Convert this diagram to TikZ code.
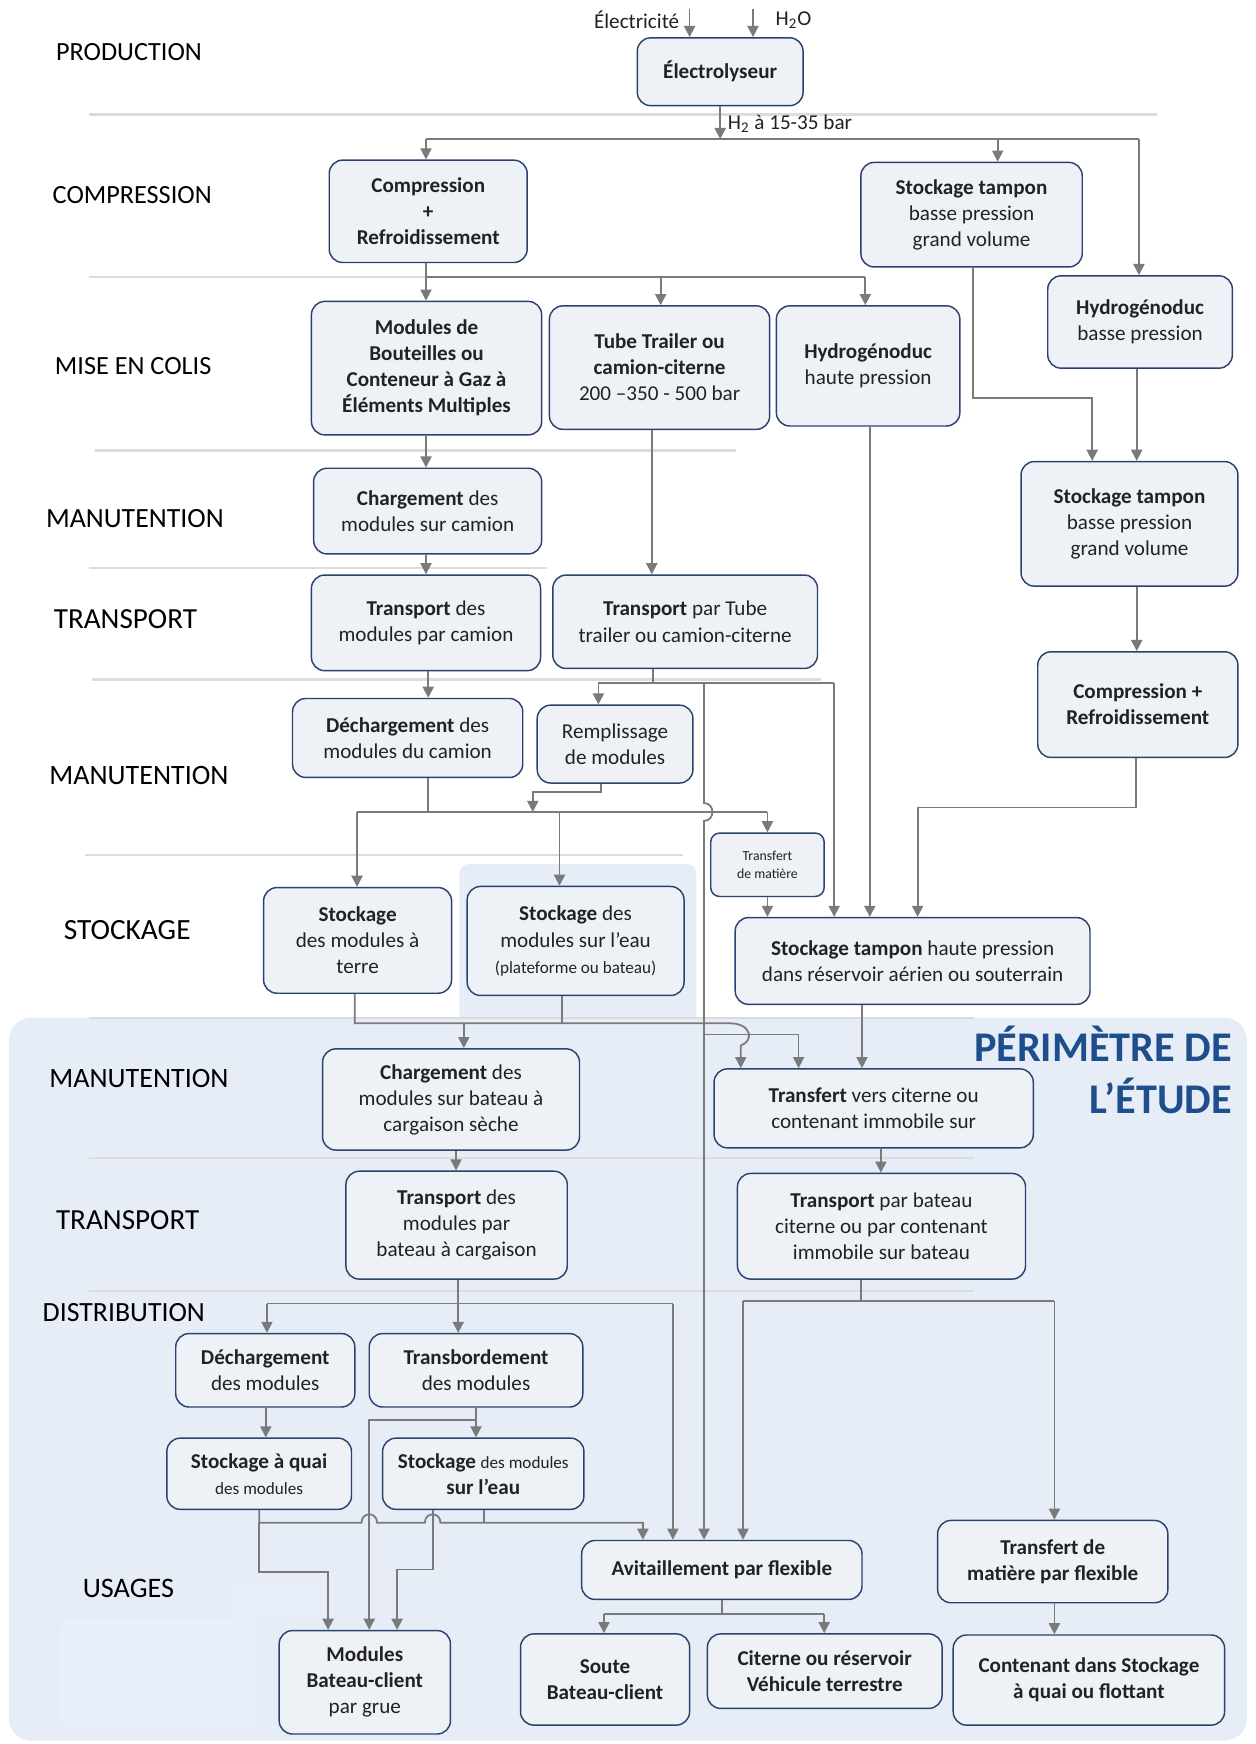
\documentclass[tikz,border=0pt]{standalone}
\usepackage{fontspec}
\setmainfont{Carlito}
\usetikzlibrary{arrows.meta,calc}

\definecolor{boxfill}{HTML}{EEF2F7}
\definecolor{boxline}{HTML}{2B4170}
\definecolor{wirec}{HTML}{7A7A7A}
\definecolor{sepc}{HTML}{DCDCDC}
\definecolor{zone}{HTML}{E6EDF7}
\definecolor{zonelight}{HTML}{E8EFF9}
\definecolor{titleblue}{HTML}{1F4E8C}
\definecolor{txt}{HTML}{222222}

\newcommand\nodefnt{\fontsize{9.5}{11.7}\selectfont}
\newcommand\smallfnt{\fontsize{7.7}{9}\selectfont}
\newcommand\tinyfnt{\fontsize{6.2}{8}\selectfont}
\newcommand\stagesize[1]{\fontsize{#1}{14}\selectfont}

\tikzset{
  box/.style={draw=boxline, fill=boxfill, rounded corners=6pt, line width=0.65pt,
    inner sep=0pt, align=center, font=\nodefnt, text=txt},
  boxb/.style={box, font=\nodefnt\bfseries},
  % place a box by its left, top, right and bottom edges
  span/.style args={#1/#2/#3/#4}{minimum width={(#3-#1)*0.5pt}, minimum height={(#4-#2)*0.5pt},
    at={({(#1+#3)/2},{(#2+#4)/2})}},
  wire/.style={draw=wirec, line width=0.8pt},
  arr/.style={wire, -{Triangle[length=5pt,width=5pt]}, fill=none},
  sepline/.style={draw=sepc, line width=1pt},
  stage/.style={anchor=west, font=\stagesize{#1}, inner sep=0pt, text=black},
  stage/.default=11.8,
  lbl/.style={font=\nodefnt, inner sep=0pt, text=txt},
}

\begin{document}
\begin{tikzpicture}[x=0.5pt,y=-0.5pt]
\useasboundingbox (0,0) rectangle (1129,1568);
\fill[white] (0,0) rectangle (1129,1568);

% study perimeter and highlighted zones
\fill[zone, rounded corners=10pt] (8,915) rectangle (1121,1565);
\fill[zone, rounded corners=4pt] (413,777) rectangle (626,925);
\fill[zonelight, rounded corners=4pt] (54,1456) rectangle (229,1555);
\fill[zonelight] (209,1427) rectangle (288,1456);

% stage separators
\draw[sepline] (80,103) -- (1040,103);
\draw[sepline] (80,249) -- (778,249);
\draw[sepline] (85,405) -- (662,405);
\draw[sepline] (80,511) -- (492,511);
\draw[sepline] (83,611) -- (738,611);
\draw[sepline] (76,769) -- (614,769);
\draw[sepline] (80,915) -- (876,915);
\draw[sepline] (80,1041) -- (876,1041);
\draw[sepline] (80,1161) -- (876,1161);

% stage names
\node[stage] (sProd) at (50,47) {PRODUCTION};
\node[stage] (sComp) at (47,175) {COMPRESSION};
\node[stage] (sColis) at (49,329) {MISE EN COLIS};
\node[stage=12.5] (sMan1) at (41,466) {MANUTENTION};
\node[stage=13.1] (sTr1) at (48,557) {TRANSPORT};
\node[stage=12.6] (sMan2) at (44,697) {MANUTENTION};
\node[stage=13.2] (sSto) at (57,836) {STOCKAGE};
\node[stage=12.6] (sMan3) at (44,970) {MANUTENTION};
\node[stage=13.1] (sTr2) at (50,1097) {TRANSPORT};
\node[stage=12.5] (sDist) at (38,1180) {DISTRIBUTION};
\node[stage=12.7] (sUse) at (74,1428) {USAGES};

\node[anchor=base east, font=\fontsize{19}{23}\selectfont\bfseries, text=titleblue, inner sep=0pt]
  (per1) at (1108,954) {PÉRIMÈTRE DE};
\node[anchor=base east, font=\fontsize{19}{23}\selectfont\bfseries, text=titleblue, inner sep=0pt]
  (per2) at (1108,1001) {L’ÉTUDE};

% process steps
\node[boxb, span=573/34/722/95] (ely) {Électrolyseur};
\node[boxb, span=296/144/474/236] (comp) {Compression\\+\\Refroidissement};
\node[box, span=774/146/973/240] (stA) {\textbf{Stockage tampon}\\basse pression\\grand volume};
\node[box, span=942/248/1108/331] (hbp) {\textbf{Hydrogénoduc}\\basse pression};
\node[boxb, span=280/271/487/391] (mod) {Modules de\\Bouteilles ou\\Conteneur à Gaz à\\Éléments Multiples};
\node[box, span=494/275/692/386] (tube) {\textbf{Tube Trailer ou}\\\textbf{camion-citerne}\\200 –350 - 500 bar};
\node[box, span=698/275/863/383] (hhp) {\textbf{Hydrogénoduc}\\haute pression};
\node[box, span=918/415/1113/527] (stB) {\textbf{Stockage tampon}\\basse pression\\grand volume};
\node[box, span=282/421/487/498] (chm) {\textbf{Chargement} des\\modules sur camion};
\node[box, span=280/517/486/603] (trc) {\textbf{Transport} des\\modules par camion};
\node[box, span=497/517/735/601] (trt) {\textbf{Transport} par Tube\\trailer ou camion-citerne};
\node[boxb, span=933/586/1113/681] (comp2) {Compression +\\Refroidissement};
\node[box, span=263/628/470/699] (dech) {\textbf{Déchargement} des\\modules du camion};
\node[box, span=483/634/623/704] (rem) {Remplissage\\de modules};
\node[box, rounded corners=4pt, font=\tinyfnt, span=639/749/741/806] (tm) {Transfert\\de matière};
\node[box, span=237/798/406/893] (sta) {\textbf{Stockage}\\des modules à\\terre};
\node[box, span=420/797/615/895] (ste) {\textbf{Stockage} des\\modules sur l’eau\\{\smallfnt (plateforme ou bateau)}};
\node[box, span=661/825/980/903] (sthp) {\textbf{Stockage tampon} haute pression\\dans réservoir aérien ou souterrain};
\node[box, span=290/943/521/1034] (chb) {\textbf{Chargement} des\\modules sur bateau à\\cargaison sèche};
\node[box, span=642/961/929/1032] (tv) {\textbf{Transfert} vers citerne ou\\contenant immobile sur};
\node[box, span=311/1053/510/1150] (tbc) {\textbf{Transport} des\\modules par\\bateau à cargaison};
\node[box, span=663/1055/922/1150] (tbt) {\textbf{Transport} par bateau\\citerne ou par contenant\\immobile sur bateau};
\node[box, span=158/1199/319/1265] (dm) {\textbf{Déchargement}\\des modules};
\node[box, span=332/1199/524/1265] (tb) {\textbf{Transbordement}\\des modules};
\node[box, span=150/1293/316/1357] (sq) {\textbf{Stockage à quai}\\{\smallfnt des modules}};
\node[box, span=344/1293/525/1357] (se) {\textbf{Stockage} {\smallfnt des modules}\\\textbf{sur l’eau}};
\node[boxb, span=523/1385/775/1438] (avi) {Avitaillement par flexible};
\node[boxb, span=843/1367/1050/1441] (tf) {Transfert de\\matière par flexible};
\node[box, span=251/1466/405/1559] (mbc) {\textbf{Modules}\\\textbf{Bateau-client}\\par grue};
\node[boxb, span=468/1469/620/1551] (sou) {Soute\\Bateau-client};
\node[boxb, span=636/1469/847/1536] (cit) {Citerne ou réservoir\\Véhicule terrestre};
\node[boxb, span=857/1470/1101/1551] (cont) {Contenant dans Stockage\\à quai ou flottant};

% inputs and output of the electrolyser
\coordinate (eIn) at (620,8);
\coordinate (wIn) at (677,8);
\draw[arr] (eIn) -- (eIn |- ely.north);
\draw[arr] (wIn) -- (wIn |- ely.north);
\node[lbl, anchor=east] (lblE) at (611,18) {Électricité};
\node[lbl, anchor=west] (lblW) at (697,18) {H\textsubscript{2}O};
\coordinate (b1) at (648,125);
\coordinate (b1L) at (383,125);
\coordinate (b1M) at (897,125);
\coordinate (b1R) at (1024,125);
\draw[arr] (ely.south) -- (ely.south |- b1);
\node[lbl, anchor=west] (lblH) at (654,111) {H\textsubscript{2} à 15-35 bar};
\draw[wire] (b1L) -- (b1R);
\draw[arr] (b1L) -- (b1L |- comp.north);
\draw[arr] (b1M) -- (b1M |- stA.north);
\draw[arr] (b1R) -- (b1R |- hbp.north);

% compression outputs
\coordinate (b2L) at (383,249);
\coordinate (b2M) at (594,249);
\coordinate (b2R) at (778,249);
\draw[wire] (b2L |- comp.south) -- (b2L) -- (b2R);
\draw[arr] (b2L) -- (b2L |- mod.north);
\draw[arr] (b2M) -- (b2M |- tube.north);
\draw[arr] (b2R) -- (b2R |- hhp.north);

% low pressure branch
\coordinate (kA) at (875,358);
\coordinate (kB) at (982,358);
\draw[arr] (kA |- stA.south) -- (kA) -- (kB) -- (kB |- stB.north);
\coordinate (kC) at (1022,0);
\draw[arr] (kC |- hbp.south) -- (kC |- stB.north);
\draw[arr] (kC |- stB.south) -- (kC |- comp2.north);
\coordinate (kJ) at (1021,726);
\coordinate (kK) at (825,726);
\draw[arr] (kJ |- comp2.south) -- (kJ) -- (kK) -- (kK |- sthp.north);

% module chain
\coordinate (kD) at (383,0);
\draw[arr] (kD |- mod.south) -- (kD |- chm.north);
\draw[arr] (kD |- chm.south) -- (kD |- trc.north);
\coordinate (kG) at (385,0);
\draw[arr] (kG |- trc.south) -- (kG |- dech.north);

% tube trailer and pipeline
\coordinate (kE) at (586,0);
\draw[arr] (kE |- tube.south) -- (kE |- trt.north);
\coordinate (kF) at (782,0);
\draw[arr] (kF |- hhp.south) -- (kF |- sthp.north);

\coordinate (b3) at (587,614);
\coordinate (b3L) at (538,614);
\coordinate (b3V) at (633,614);
\coordinate (b3R) at (750,614);
\draw[wire] (b3 |- trt.south) -- (b3);
\draw[wire] (b3L) -- (b3R);
\draw[arr] (b3L) -- (b3L |- rem.north);
\draw[arr] (b3R) -- (b3R |- sthp.north);
\draw[arr] (b3V) -- (633,722) .. controls (643,722) and (643,738) .. (633,738) -- (b3V |- avi.north);
\coordinate (b5) at (633,930);
\coordinate (b5R) at (718,930);
\draw[arr] (b5) -- (b5R) -- (b5R |- tv.north);

% unloaded modules to storage
\coordinate (b4L) at (321,730);
\coordinate (b4M) at (503,730);
\coordinate (b4R) at (690,730);
\draw[wire] (b4L) -- (b4R);
\draw[wire] (kG |- dech.south) -- (kG |- b4L);
\coordinate (kH) at (540,712);
\coordinate (kI) at (479,712);
\draw[arr] (kH |- rem.south) -- (kH) -- (kI) -- (kI |- b4L);
\draw[arr] (b4L) -- (b4L |- sta.north);
\draw[arr] (b4M) -- (b4M |- ste.north);
\draw[arr] (b4R) -- (b4R |- tm.north);
\draw[arr] (b4R |- tm.south) -- (b4R |- sthp.north);

% storage outputs
\coordinate (kL) at (775,0);
\draw[arr] (kL |- sthp.south) -- (kL |- tv.north);
\coordinate (b6L) at (319,920);
\coordinate (b6A) at (417,920);
\coordinate (b6M) at (505,920);
\coordinate (b6T) at (666,940);
\draw[arr] (b6L |- sta.south) -- (b6L) -- (656,920) .. controls (676,920) and (678,936) .. (b6T) -- (b6T |- tv.north);
\draw[wire] (b6M |- ste.south) -- (b6M);
\draw[arr] (b6A) -- (b6A |- chb.north);

% ship transport
\coordinate (kM) at (410,0);
\draw[arr] (kM |- chb.south) -- (kM |- tbc.north);
\coordinate (kN) at (792,0);
\draw[arr] (kN |- tv.south) -- (kN |- tbt.north);

\coordinate (b7L) at (240,1172);
\coordinate (b7M) at (412,1172);
\coordinate (b7R) at (605,1172);
\draw[wire] (b7M |- tbc.south) -- (b7M);
\draw[wire] (b7L) -- (b7R);
\draw[arr] (b7L) -- (b7L |- dm.north);
\draw[arr] (b7M) -- (b7M |- tb.north);
\draw[arr] (b7R) -- (b7R |- avi.north);

\coordinate (b8) at (774,1170);
\coordinate (b8L) at (668,1170);
\coordinate (b8R) at (948,1170);
\draw[wire] (b8 |- tbt.south) -- (b8);
\draw[wire] (b8L) -- (b8R);
\draw[arr] (b8L) -- (b8L |- avi.north);
\draw[arr] (b8R) -- (b8R |- tf.north);
\draw[arr] (b8R |- tf.south) -- (b8R |- cont.north);

% distribution
\coordinate (kO) at (239,0);
\draw[arr] (kO |- dm.south) -- (kO |- sq.north);
\coordinate (kP) at (428,1277);
\coordinate (kQ) at (332,1277);
\draw[wire] (kP |- tb.south) -- (kP);
\draw[arr] (kP) -- (kP |- se.north);
\draw[arr] (kP) -- (kQ) -- (kQ |- mbc.north);

\coordinate (kR) at (233,1369);
\coordinate (kS) at (578,1369);
\draw[arr] (kR |- sq.south) -- (kR) -- (325,1369) .. controls (325,1359) and (339,1359) .. (339,1369)
  -- (382,1369) .. controls (382,1359) and (396,1359) .. (396,1369) -- (kS) -- (kS |- avi.north);
\coordinate (kT) at (435,1369);
\draw[wire] (kT |- se.south) -- (kT);
\coordinate (kU) at (233,1413);
\coordinate (kV) at (295,1413);
\draw[arr] (kR) -- (kU) -- (kV) -- (kV |- mbc.north);
\coordinate (kW) at (389,1411);
\coordinate (kX) at (357,1411);
\draw[arr] (kW |- se.south) -- (kW) -- (kX) -- (kX |- mbc.north);

% bunkering outputs
\coordinate (b9) at (649,1451);
\coordinate (b9L) at (543,1451);
\coordinate (b9R) at (741,1451);
\draw[wire] (b9 |- avi.south) -- (b9);
\draw[wire] (b9L) -- (b9R);
\draw[arr] (b9L) -- (b9L |- sou.north);
\draw[arr] (b9R) -- (b9R |- cit.north);
\end{tikzpicture}
\end{document}
